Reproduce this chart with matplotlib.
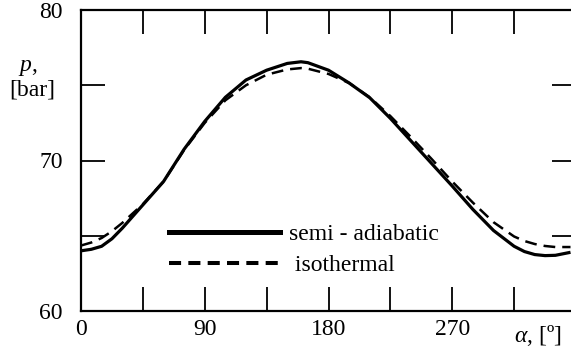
import matplotlib
matplotlib.use("Agg")
import matplotlib.pyplot as plt
from matplotlib.lines import Line2D

# ===================== 데이터 =====================
alpha = [0, 7.5, 15, 22.5, 30, 45, 60, 75, 90, 105, 120, 135, 150, 160, 165, 180, 195,
         210, 225, 240, 255, 270, 285, 300, 315, 322.5, 330, 337.5, 345, 356]
p_semi = [64.0, 64.1, 64.3, 64.8, 65.5, 67.05, 68.6, 70.75, 72.6, 74.2, 75.35, 76.0, 76.45,
          76.56, 76.5, 76.0, 75.15, 74.17, 72.8, 71.3, 69.8, 68.3, 66.75, 65.35, 64.3,
          63.95, 63.75, 63.68, 63.7, 63.9]
p_iso = [64.35, 64.55, 64.85, 65.3, 65.85, 67.1, 68.6, 70.7, 72.5, 74.0, 75.0, 75.7, 76.05,
         76.14, 76.1, 75.75, 75.15, 74.2, 72.95, 71.55, 70.1, 68.6, 67.2, 65.9, 64.95,
         64.65, 64.45, 64.32, 64.25, 64.25]
labels = ["semi - adiabatic", " isothermal"]
xticks = [0, 45, 90, 135, 180, 225, 270, 315, 360]
xtick_labels = ["0", "", "90", "", "180", "", "270", "", ""]
yticks = [60, 65, 70, 75, 80]
ytick_labels = ["60", "", "70", "", "80"]

# ===================== 스타일 =====================
plt.rcParams["font.family"] = ["Liberation Serif", "DejaVu Serif"]
plt.rcParams["mathtext.fontset"] = "custom"
plt.rcParams["mathtext.rm"] = "Liberation Serif"
plt.rcParams["mathtext.it"] = "Liberation Serif:italic"
FS = 17
W, H = 571, 349

fig = plt.figure(figsize=(W / 100, H / 100), dpi=100)
ax = fig.add_axes([81 / W, 38 / H, (576 - 81) / W, 301 / H])

ax.plot(alpha, p_semi, color="black", lw=2.3, solid_capstyle="butt")
ax.plot(alpha, p_iso, color="black", lw=1.8, linestyle=(0, (4.7, 2.8)))

ax.set_xlim(0, 360)
ax.set_ylim(60, 80)
ax.set_xticks(xticks)
ax.set_xticklabels(xtick_labels)
ax.set_yticks(yticks)
ax.set_yticklabels(ytick_labels)
ax.tick_params(direction="in", length=17.3, width=1.3, top=True, right=True,
               labelsize=FS, color="black")
ax.tick_params(axis="x", pad=6)
ax.tick_params(axis="y", pad=13)
for s in ax.spines.values():
    s.set_linewidth(1.6)

# 축 라벨
fig.text(28 / W, 1 - 67 / H, "$p$,", ha="center", va="center", fontsize=FS)
fig.text(32 / W, 1 - 90 / H, "[bar]", ha="center", va="center", fontsize=FS)
fig.text(538 / W, 1 - 336 / H, r"$\alpha$, [º]", ha="center", va="center", fontsize=FS)

# 범례
handles = [Line2D([], [], color="black", lw=3.6),
           Line2D([], [], color="black", lw=2.9, linestyle=(0, (3.0, 1.8)))]
ax.legend(handles, labels, loc="center left", bbox_to_anchor=(169 / W, 1 - 250 / H),
          bbox_transform=fig.transFigure, frameon=False, handlelength=4.7,
          handletextpad=0.4, labelspacing=0.42, borderpad=0, borderaxespad=0,
          fontsize=FS)

fig.savefig("out.png", dpi=100)
